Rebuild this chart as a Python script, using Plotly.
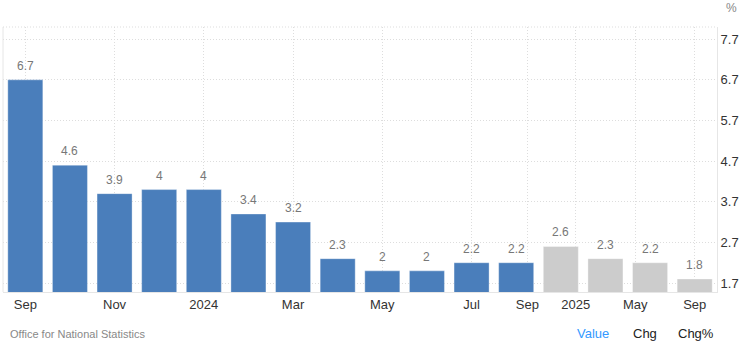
import plotly.graph_objects as go

# Data
periods = ["2023-09", "2023-10", "2023-11", "2023-12", "2024-01", "2024-02", "2024-03",
           "2024-04", "2024-05", "2024-06", "2024-07", "2024-08",
           "2024-Q4F", "2025-Q1F", "2025-Q2F", "2025-Q3F"]
values = [6.7, 4.6, 3.9, 4.0, 4.0, 3.4, 3.2, 2.3, 2.0, 2.0, 2.2, 2.2, 2.6, 2.3, 2.2, 1.8]
is_forecast = [False] * 12 + [True] * 4
value_labels = ["6.7", "4.6", "3.9", "4", "4", "3.4", "3.2", "2.3", "2", "2", "2.2", "2.2",
                "2.6", "2.3", "2.2", "1.8"]
tick_pos = [0, 2, 4, 6, 8, 10, 11.25, 12.333, 13.667, 15]
tick_text = ["Sep", "Nov", "2024", "Mar", "May", "Jul", "Sep", "2025", "May", "Sep"]
y_ticks = [1.7, 2.7, 3.7, 4.7, 5.7, 6.7, 7.7]

BLUE = "#4a7ebb"
GREY = "#cccccc"
x = list(range(len(values)))
colors = [GREY if f else BLUE for f in is_forecast]

fig = go.Figure()
fig.add_trace(go.Bar(
    x=x, y=values, marker=dict(color=colors, line=dict(width=1, color="rgba(255,255,255,0.35)")),
    hoverinfo="skip", showlegend=False,
))

for xi, v, t in zip(x, values, value_labels):
    fig.add_annotation(x=xi, y=v, text=t, showarrow=False, yshift=14,
                       font=dict(family="Liberation Sans, Arial", size=12, color="#777777"))

fig.update_layout(
    width=742, height=351,
    margin=dict(l=3, r=25, t=27, b=59),
    plot_bgcolor="white", paper_bgcolor="white",
    bargap=0.215,
    font=dict(family="Liberation Sans, Arial", size=13, color="#333333"),
    xaxis=dict(
        range=[-0.5, 15.5], tickmode="array", tickvals=tick_pos, ticktext=tick_text,
        showgrid=True, gridcolor="#dddddd", griddash="1px,2px", gridwidth=1,
        showline=True, linecolor="#e6e6e6", linewidth=1,
        ticks="", tickfont=dict(size=13, color="#333333"), zeroline=False,
    ),
    yaxis=dict(
        range=[1.48, 8.0], side="right", tickmode="array", tickvals=y_ticks,
        ticktext=[f"{v:.1f}" for v in y_ticks],
        showgrid=True, gridcolor="#dddddd", griddash="1px,2px", gridwidth=1,
        showline=True, linecolor="#e6e6e6", linewidth=1,
        ticks="", tickfont=dict(size=13, color="#333333"), zeroline=False,
    ),
)

# plot frame: left solid, top dotted
fig.add_shape(type="line", xref="paper", yref="paper", x0=0, x1=0, y0=0, y1=1,
              line=dict(color="#e6e6e6", width=1))
fig.add_shape(type="line", xref="paper", yref="paper", x0=0, x1=1, y0=1, y1=1,
              line=dict(color="#dddddd", width=1, dash="1px,2px"))

fig.add_annotation(xref="paper", yref="paper", x=1.0, y=1.0, xshift=22, yshift=19,
                   text="%", showarrow=False, xanchor="right", yanchor="middle",
                   font=dict(size=12, color="#888888"))
fig.add_annotation(xref="paper", yref="paper", x=0, y=0, xshift=5, yshift=-42,
                   text="Office for National Statistics", showarrow=False,
                   xanchor="left", yanchor="middle", font=dict(size=11, color="#888888"))
for label, xpx, col in [("Value", 593, "#3399ff"), ("Chg", 645, "#222222"), ("Chg%", 696, "#222222")]:
    fig.add_annotation(xref="paper", yref="paper", x=(xpx - 3) / 714, y=0, yshift=-41,
                       text=label, showarrow=False, xanchor="center", yanchor="middle",
                       font=dict(size=13, color=col))

fig.write_html("out.html")
